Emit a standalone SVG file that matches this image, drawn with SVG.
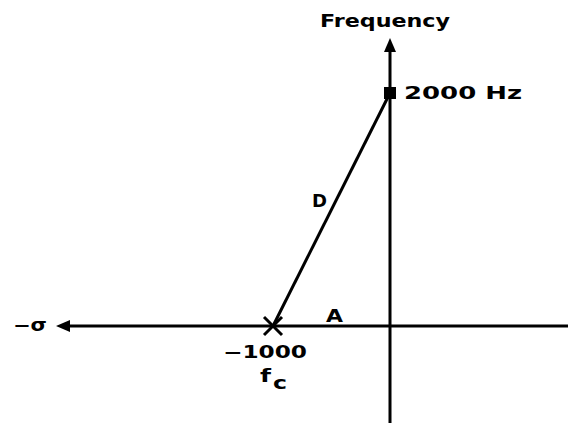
<svg xmlns="http://www.w3.org/2000/svg" width="568" height="423" viewBox="0 0 568 423">
<style>
text{font-family:"DejaVu Sans","Liberation Sans",sans-serif;font-weight:bold;font-size:17px;fill:#000}
.ln{stroke:#000;stroke-width:3;fill:none}
</style>
<defs>
<marker id="ah" viewBox="0 0 14 12" refX="2" refY="6" markerWidth="14" markerHeight="12" markerUnits="userSpaceOnUse" orient="auto">
<path d="M14,6 L0,0 L0,12 Z" fill="#000"/>
</marker>
</defs>
<rect width="568" height="423" fill="#fff"/>
<g id="connectors">
<line class="ln" x1="390" y1="423" x2="390" y2="50" marker-end="url(#ah)"/>
<line class="ln" x1="568" y1="326" x2="68" y2="326" marker-end="url(#ah)"/>
<line class="ln" x1="273" y1="326" x2="390" y2="93"/>
</g>
<g id="freq-label"><text x="320" y="27" textLength="130" lengthAdjust="spacingAndGlyphs">Frequency</text></g>
<g id="sigma-label"><text x="13" y="331" textLength="34" lengthAdjust="spacingAndGlyphs">−σ</text></g>
<g id="zero-2000">
<rect x="384" y="87" width="12" height="12" fill="#000"/>
<text x="404" y="99" textLength="118" lengthAdjust="spacingAndGlyphs">2000 Hz</text>
</g>
<g id="pole-fc">
<line class="ln" x1="264" y1="317" x2="282" y2="335"/>
<line class="ln" x1="264" y1="335" x2="282" y2="317"/>
<text x="223" y="358" textLength="84" lengthAdjust="spacingAndGlyphs">−1000</text>
<text x="260" y="382" textLength="11" lengthAdjust="spacingAndGlyphs">f</text>
<text x="273" y="389" textLength="14" lengthAdjust="spacingAndGlyphs">c</text>
</g>
<g id="label-D"><text x="312" y="207" textLength="15" lengthAdjust="spacingAndGlyphs">D</text></g>
<g id="label-A"><text x="326" y="322" textLength="17" lengthAdjust="spacingAndGlyphs">A</text></g>
</svg>
